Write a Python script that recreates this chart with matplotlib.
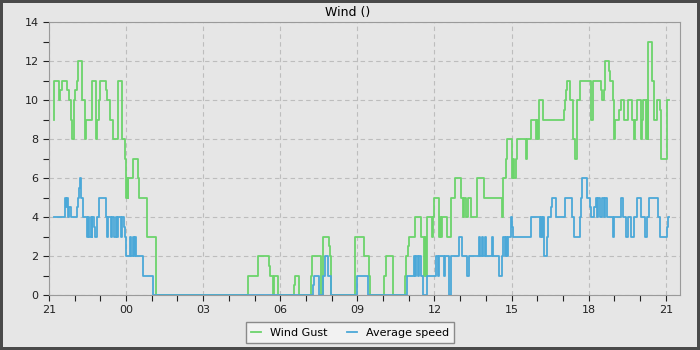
#!/usr/bin/env python3
# Wind gust / average speed over one day, step plot

from datetime import datetime, timedelta

import matplotlib
matplotlib.use("Agg")
import matplotlib.pyplot as plt
import matplotlib.dates as mdates

# -----------------------------
# Data (hours after 21:00, m/s)
# -----------------------------
START = datetime(2024, 1, 1, 21, 0)
END_HOURS = 24.57

gust_hours = [
    0.19, 0.21, 0.39, 0.43, 0.52, 0.71, 0.78, 0.84, 0.91, 0.97, 1.03, 1.10,
    1.14, 1.27, 1.30, 1.40, 1.43, 1.69, 1.82, 1.84, 1.88, 1.95, 1.99, 2.22,
    2.25, 2.36, 2.49, 2.69, 2.86, 2.97, 3.01, 3.03, 3.06, 3.09, 3.26, 3.46,
    3.50, 3.83, 4.18,
    7.73, 8.12, 8.57, 8.60, 8.72, 8.76, 8.92,
    9.52, 9.57, 9.74,
    10.19, 10.24, 10.58, 10.65, 10.88, 10.92, 10.96,
    11.92, 12.25, 12.45, 12.50,
    13.05, 13.12, 13.38,
    13.87, 13.91, 13.97, 14.01, 14.24, 14.46, 14.61, 14.65, 14.68, 14.72,
    14.89, 14.94, 14.98, 15.18, 15.22, 15.26, 15.31, 15.50, 15.63, 15.80,
    16.02, 16.12, 16.16, 16.22, 16.30, 16.41, 16.67, 16.93, 17.63, 17.68,
    17.80, 17.84,
    18.02, 18.06, 18.10, 18.17, 18.22, 18.58, 18.62, 18.74, 18.95, 19.00,
    19.04, 19.07, 19.23, 20.03, 20.07, 20.11, 20.14, 20.29, 20.40, 20.46,
    20.53, 20.66,
    21.08, 21.11, 21.15, 21.18, 21.49, 21.53, 21.58, 21.62, 21.79, 21.83,
    21.96, 22.00, 22.03, 22.18, 22.25, 22.38, 22.53, 22.70, 22.77, 22.82,
    22.87, 23.02, 23.07, 23.13, 23.22, 23.26, 23.30, 23.32, 23.48, 23.54,
    23.65, 23.78, 23.83, 24.04, 24.06, 24.13,
]
gust_values = [
    9, 11, 10, 10.5, 11, 10.5, 10, 9, 8, 10, 10.5, 11,
    12, 11, 10, 8, 9, 11, 10, 8, 9, 10, 11, 10.5,
    10, 9, 8, 11, 8, 7, 5, 6, 5, 6, 7, 6,
    5, 3, 0,
    1, 2, 1.5, 1, 0, 1, 0,
    0.5, 1, 0,
    1, 2, 0, 3, 2.5, 2, 0,
    3, 2, 1, 0,
    1, 2, 0,
    1, 2, 2.5, 3, 4, 3, 1, 3, 1, 4,
    3, 4, 5, 3, 4, 3, 4, 3, 5, 6,
    5, 4, 5, 4, 5, 4, 6, 5, 4, 6,
    7, 8,
    6, 7, 6, 7, 8, 7, 8, 9, 8, 9,
    8, 10, 9, 9.5, 10, 10.5, 11, 10, 8, 7,
    10, 11,
    10, 9, 10, 11, 10.5, 10, 10.5, 12, 11.5, 11,
    10, 8, 9, 9.5, 10, 9, 10, 9, 8, 9,
    10, 8, 9, 10, 8, 10, 8, 13, 11, 9,
    10, 9.5, 7, 8.5, 10, 10,
]

avg_hours = [
    0.19, 0.62, 0.66, 0.71, 0.74, 0.78, 0.84, 1.08, 1.13, 1.17, 1.21, 1.26,
    1.31, 1.47, 1.52, 1.56, 1.62, 1.66, 1.69, 1.75, 1.79, 1.88, 1.95, 2.22,
    2.27, 2.31, 2.40, 2.47, 2.53, 2.60, 2.66, 2.70, 2.79, 2.83, 2.92, 2.95,
    3.01, 3.16, 3.21, 3.25, 3.29, 3.34, 3.38, 3.64, 4.06,
    10.29, 10.33, 10.49, 10.65, 10.68, 10.74, 10.84, 10.96,
    11.97, 12.40,
    13.94, 14.20, 14.26, 14.30, 14.36, 14.40, 14.46, 14.56, 14.72, 15.05,
    15.12, 15.16, 15.37, 15.42, 15.58, 15.63, 15.96, 16.08, 16.28, 16.34,
    16.73, 16.79, 16.85, 16.89, 16.95, 16.99, 17.23, 17.27, 17.51, 17.64,
    17.68, 17.73, 17.78, 17.82, 17.88, 17.96, 18.02, 18.06, 18.74, 19.10,
    19.14, 19.18, 19.23, 19.26, 19.36, 19.42, 19.52, 19.58, 19.71, 19.74,
    20.07, 20.36, 20.42, 20.66, 20.71, 20.76, 20.92, 21.05, 21.10, 21.21,
    21.27, 21.33, 21.38, 21.45, 21.50, 21.58, 21.62, 21.70, 21.96, 22.00,
    22.27, 22.35, 22.44, 22.53, 22.66, 22.77, 22.90, 23.03, 23.18, 23.26,
    23.36, 23.70, 23.78, 24.04, 24.09, 24.13,
]
avg_values = [
    4, 5, 4.5, 5, 4, 4.5, 4, 4.5, 5, 5.5, 6, 5,
    4, 3, 4, 3, 4, 3, 4, 3.5, 3, 4, 5, 4,
    3, 4, 3, 4, 3, 4, 3, 4, 3, 4, 3.5, 3,
    2, 3, 2, 3, 2, 3, 2, 1, 0,
    0.5, 1, 0, 0.5, 1, 2, 1, 0,
    1, 0,
    1, 2, 1, 2, 1, 2, 1, 0, 1, 2,
    1, 2, 1, 2, 0, 2, 3, 2, 1, 2,
    3, 2, 3, 2, 3, 2, 3, 2, 1, 2,
    3, 2, 3, 2, 3, 4, 3.5, 3, 4, 3,
    4, 3, 4, 2, 3, 4, 4.5, 5, 4.5, 4,
    5, 4, 3, 4, 5, 6, 5, 4.5, 4, 4.5,
    5, 4, 5, 4, 5, 4, 5, 4, 3, 4,
    5, 4, 3, 4, 3, 4, 5, 4, 3, 4,
    5, 4, 3, 3.5, 4, 4,
]

GUST_COLOR = "#6cd46c"
AVG_COLOR = "#4ba8d8"
BG = "#e6e6e6"


def to_times(hours):
    return [START + timedelta(hours=h) for h in hours]


def main():
    plt.rcParams["font.family"] = "DejaVu Sans"

    fig = plt.figure(figsize=(7, 3.5), dpi=100)
    fig.patch.set_facecolor(BG)
    fig.patch.set_edgecolor("#4a4a4a")
    fig.patch.set_linewidth(3)

    ax = fig.add_axes([0.0700, 0.157, 0.902, 0.780])
    ax.set_facecolor(BG)

    ax.plot(to_times(gust_hours), gust_values, drawstyle="steps-post",
            color=GUST_COLOR, lw=1.3, label="Wind Gust")
    ax.plot(to_times(avg_hours), avg_values, drawstyle="steps-post",
            color=AVG_COLOR, lw=1.3, label="Average speed")

    ax.set_xlim(START, START + timedelta(hours=END_HOURS))
    ax.set_ylim(0, 14)
    ax.set_yticks(range(0, 15, 2))
    ax.set_yticks(range(1, 14, 2), minor=True)

    ax.xaxis.set_major_locator(mdates.HourLocator(byhour=range(0, 24, 3)))
    ax.xaxis.set_minor_locator(mdates.HourLocator())
    ax.xaxis.set_major_formatter(mdates.DateFormatter("%H"))

    ax.tick_params(which="both", direction="out", length=4, width=0.8,
                   colors="#222222", labelsize=8)
    ax.grid(which="major", ls=(0, (4, 3)), color="#bdbdbd", lw=0.8)
    for sp in ax.spines.values():
        sp.set_color("#9a9a9a")

    fig.text(0.497, 0.964, "Wind ()", ha="center", va="center", fontsize=9)

    leg = fig.legend(loc="lower center", bbox_to_anchor=(0.5, 0.003),
                     ncol=2, fontsize=8, fancybox=False, handlelength=0.9,
                     columnspacing=1.7, borderpad=0.5)
    leg.get_frame().set_edgecolor("#8a8a8a")
    leg.get_frame().set_facecolor("#f2f2f2")
    leg.get_frame().set_alpha(1.0)

    fig.savefig("out.png", dpi=100, facecolor=fig.get_facecolor(),
                edgecolor=fig.get_edgecolor())


if __name__ == "__main__":
    main()
